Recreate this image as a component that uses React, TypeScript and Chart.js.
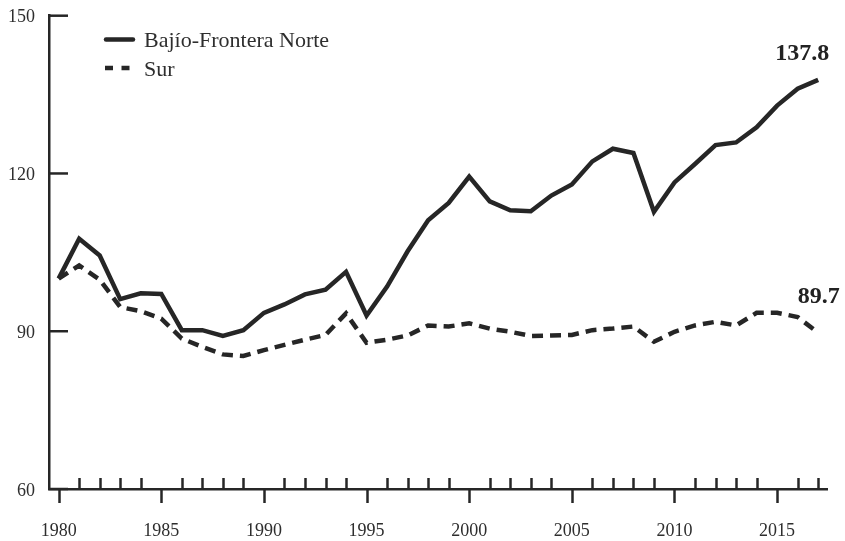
import React, { useEffect, useRef } from "react";
import { Chart, registerables } from "chart.js";

Chart.register(...registerables);

const years = [
  1980, 1981, 1982, 1983, 1984, 1985, 1986, 1987, 1988, 1989,
  1990, 1991, 1992, 1993, 1994, 1995, 1996, 1997, 1998, 1999,
  2000, 2001, 2002, 2003, 2004, 2005, 2006, 2007, 2008, 2009,
  2010, 2011, 2012, 2013, 2014, 2015, 2016, 2017,
];

const bajioNorte = [
  100.0, 107.6, 104.4, 96.1, 97.2, 97.1, 90.2, 90.2, 89.1, 90.2,
  93.5, 95.1, 97.0, 97.9, 101.3, 93.0, 98.5, 105.2, 111.1, 114.4,
  119.4, 114.7, 113.0, 112.8, 115.8, 117.9, 122.3, 124.7, 123.9, 112.7,
  118.3, 121.8, 125.4, 125.9, 128.8, 132.9, 136.1, 137.8,
];

const sur = [
  100.0, 102.5, 99.8, 94.6, 93.8, 92.4, 88.6, 87.0, 85.6, 85.3,
  86.4, 87.4, 88.4, 89.3, 93.4, 87.8, 88.4, 89.2, 91.1, 90.9,
  91.5, 90.5, 89.9, 89.1, 89.2, 89.3, 90.2, 90.5, 90.9, 88.0,
  89.9, 91.1, 91.8, 91.1, 93.5, 93.5, 92.7, 89.7,
];

const seriesNames = ["Bajío-Frontera Norte", "Sur"];
const endLabels = ["137.8", "89.7"];
const xTickValues = [1980, 1985, 1990, 1995, 2000, 2005, 2010, 2015];
const yTickValues = [60, 90, 120, 150];

const INK = "#262626";
const TEXT = "#2e2e2e";
const FONT = "'Liberation Serif', 'Times New Roman', serif";

const decorPlugin = {
  id: "decor",
  afterDraw(chart: any) {
    const { ctx, chartArea, scales } = chart;
    const xs = scales.x;
    const ys = scales.y;
    ctx.save();
    ctx.strokeStyle = INK;
    ctx.lineWidth = 2.5;
    ctx.lineCap = "butt";
    ctx.setLineDash([]);

    // y ticks (inward)
    yTickValues.forEach((v) => {
      const py = ys.getPixelForValue(v);
      ctx.beginPath();
      ctx.moveTo(chartArea.left, py);
      ctx.lineTo(chartArea.left + 19, py);
      ctx.stroke();
    });

    // x ticks: majors down, minors up
    years.forEach((yr) => {
      const px = Math.round(xs.getPixelForValue(yr)) + 0.5;
      ctx.beginPath();
      if (yr % 5 === 0) {
        ctx.moveTo(px, chartArea.bottom);
        ctx.lineTo(px, chartArea.bottom + 14);
      } else {
        ctx.moveTo(px, chartArea.bottom - 11);
        ctx.lineTo(px, chartArea.bottom);
      }
      ctx.stroke();
    });

    // end labels
    const last = years.length - 1;
    ctx.fillStyle = "#222222";
    ctx.font = `bold 24px ${FONT}`;
    ctx.textAlign = "center";
    ctx.textBaseline = "alphabetic";
    const px = xs.getPixelForValue(years[last]);
    ctx.fillText(endLabels[0], px - 16, ys.getPixelForValue(bajioNorte[last]) - 20);
    ctx.fillText(endLabels[1], px + 0.5, ys.getPixelForValue(sur[last]) - 30);

    // legend
    ctx.strokeStyle = INK;
    ctx.lineWidth = 4.5;
    ctx.lineCap = "round";
    ctx.beginPath();
    ctx.moveTo(106, 39.5);
    ctx.lineTo(133, 39.5);
    ctx.stroke();
    ctx.lineCap = "butt";
    ctx.beginPath();
    ctx.moveTo(105, 68);
    ctx.lineTo(113, 68);
    ctx.moveTo(121.5, 68);
    ctx.lineTo(129.5, 68);
    ctx.stroke();

    ctx.fillStyle = TEXT;
    ctx.font = `22px ${FONT}`;
    ctx.textAlign = "left";
    ctx.fillText(chart.data.datasets[0].label, 144, 47);
    ctx.fillText(chart.data.datasets[1].label, 144, 75.5);
    ctx.restore();
  },
};

function zeroPad(s: any) {
  s.paddingTop = 0;
  s.paddingBottom = 0;
  s.paddingLeft = 0;
  s.paddingRight = 0;
}

export default function App() {
  const canvasRef = useRef<HTMLCanvasElement | null>(null);

  useEffect(() => {
    const canvas = canvasRef.current;
    if (!canvas) return;
    const chart = new Chart(canvas, {
      type: "line",
      data: {
        datasets: [
          {
            label: seriesNames[0],
            data: years.map((yr, i) => ({ x: yr, y: bajioNorte[i] })),
            borderColor: INK,
            borderWidth: 4.5,
            pointRadius: 0,
            borderJoinStyle: "miter",
            borderCapStyle: "butt",
            tension: 0,
            fill: false,
          },
          {
            label: seriesNames[1],
            data: years.map((yr, i) => ({ x: yr, y: sur[i] })),
            borderColor: INK,
            borderWidth: 4.5,
            borderDash: [11, 7],
            pointRadius: 0,
            borderJoinStyle: "miter",
            borderCapStyle: "butt",
            tension: 0,
            fill: false,
          },
        ],
      },
      options: {
        responsive: false,
        animation: false,
        layout: { padding: { top: 15.7, right: 18, bottom: 0, left: 0 } },
        plugins: {
          legend: { display: false },
          tooltip: { enabled: false },
        },
        scales: {
          x: {
            type: "linear",
            min: 1979.53,
            max: 2017.43,
            afterBuildTicks: (s: any) => {
              s.ticks = xTickValues.map((v) => ({ value: v }));
            },
            afterFit: (s: any) => {
              s.height = 52;
              zeroPad(s);
            },
            grid: { display: false, drawTicks: false },
            border: { display: true, color: INK, width: 2.5 },
            ticks: {
              callback: (v: any) => String(v),
              font: { family: FONT, size: 18 },
              color: TEXT,
              padding: 31,
              maxRotation: 0,
              autoSkip: false,
            },
          },
          y: {
            type: "linear",
            min: 60,
            max: 150,
            afterBuildTicks: (s: any) => {
              s.ticks = yTickValues.map((v) => ({ value: v }));
            },
            afterFit: (s: any) => {
              s.width = 49;
              zeroPad(s);
            },
            grid: { display: false, drawTicks: false },
            border: { display: true, color: INK, width: 2.5 },
            ticks: {
              callback: (v: any) => String(v),
              font: { family: FONT, size: 18 },
              color: TEXT,
              padding: 14,
              labelOffset: 2,
            },
          },
        },
      },
      plugins: [decorPlugin],
    });
    return () => chart.destroy();
  }, []);

  return (
    <div style={{ position: "fixed", left: 0, top: 0, width: 845, height: 541, background: "#fff" }}>
      <canvas ref={canvasRef} width={845} height={541} style={{ display: "block" }} />
    </div>
  );
}
